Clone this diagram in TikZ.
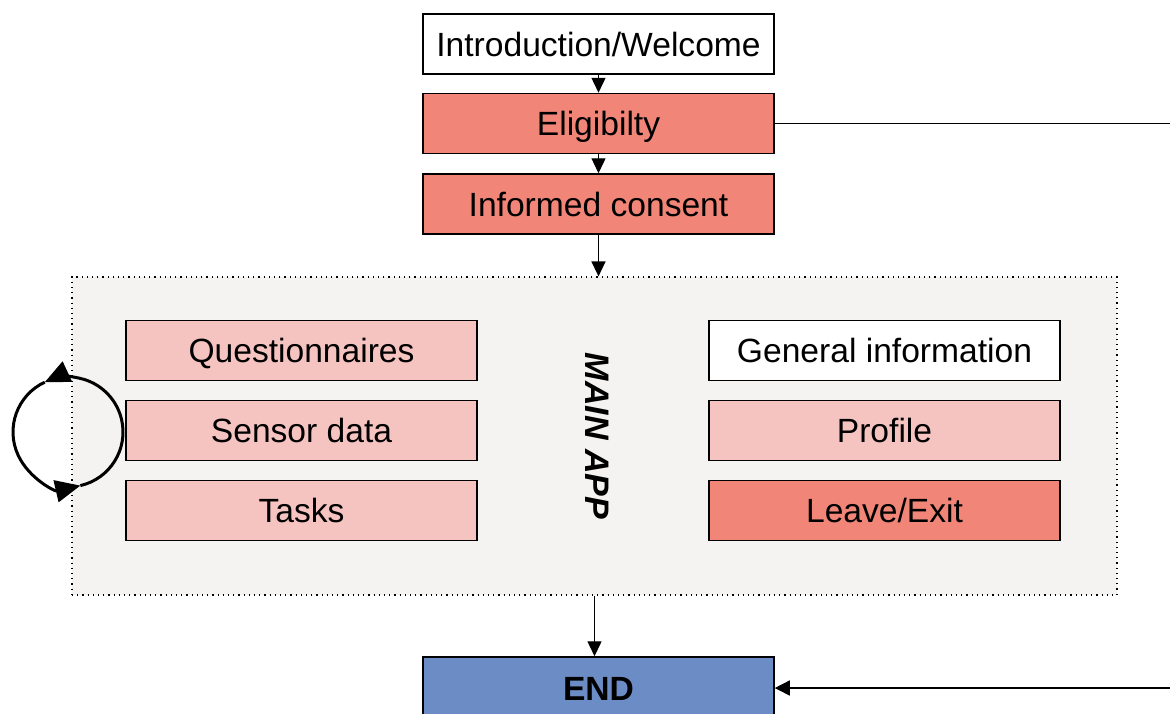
\documentclass[tikz,border=0pt]{standalone}
\usepackage{fontspec}
\setmainfont{Liberation Sans}
\usepackage{tikz}
\usetikzlibrary{arrows.meta,positioning,calc}
\definecolor{salmon}   {RGB}{240,133,120}
\definecolor{lightpink}{RGB}{245,196,192}
\definecolor{appgray}  {RGB}{244,243,242}
\definecolor{endblue}  {RGB}{108,140,198}

\begin{document}
\begin{tikzpicture}[
  x=0.5pt,y=-0.5pt,
  box/.style={rectangle,draw,line width=0.75pt,fill=white,minimum width=175.5pt,minimum height=30pt,
    inner sep=0pt,text height=12pt,text depth=0pt,font=\fontsize{16.8}{20}\selectfont},
  flow/.style={-{Triangle[length=7.5pt,width=7pt]},line width=0.7pt},
  >=Stealth]
  \clip(0,0) rectangle (1170,713);
  % main app area
  \node[rectangle,draw,dotted,line width=0.6pt,fill=appgray,minimum width=522.5pt,minimum height=159pt](app) at(594.5,436){};
  \node[rotate=-90,font=\fontsize{17}{20}\selectfont\bfseries\itshape](label) at(597,436){MAIN APP};
  % top and bottom of the flow
  \node[box](intro) at(598.5,44){Introduction/Welcome};
  \node[box,fill=salmon](elig) at(598.5,123.5){Eligibilty};
  \node[box,fill=salmon](consent) at(598.5,204){Informed consent};
  \node[box,fill=endblue,minimum height=31pt,font=\fontsize{16.8}{20}\selectfont\bfseries](end) at(598.5,688){END};
  % the two columns
  \node[box,fill=lightpink](quest) at(301.5,350.5){Questionnaires};
  \node[box,fill=lightpink](sensor) at(301.5,430.5){Sensor data};
  \node[box,fill=lightpink](tasks) at(301.5,510.5){Tasks};
  \node[box](info) at(884.5,350.5){General information};
  \node[box,fill=lightpink](profile) at(884.5,430.5){Profile};
  \node[box,fill=salmon](leave) at(884.5,510.5){Leave/Exit};
  % connectors
  \coordinate(out) at(1180,123.5);\coordinate(back) at(1180,688);
  \draw[flow](intro)--(elig);\draw[flow](elig)--(consent);
  \draw[flow](consent.south)--(consent.south|-app.north);
  \draw[flow](app.south)--(app.south|-end.north);
  \draw[line width=0.7pt](elig)--(out);
  \draw[-{Triangle[length=7.5pt,width=7.5pt]},line width=0.7pt](back)--(end);
  % repeat loop
  \coordinate(loop) at(68,432);
  \draw[-{Triangle[length=12.5pt,width=11pt]},line width=1.5pt]
    ([shift={(-77:27.5pt)}]loop) arc[start angle=-77,end angle=115,radius=27.5pt];
  \draw[-{Triangle[length=12.5pt,width=11pt]},line width=1.5pt]
    ([shift={(115:27.5pt)}]loop) arc[start angle=115,end angle=283,radius=27.5pt];
\end{tikzpicture}
\end{document}
